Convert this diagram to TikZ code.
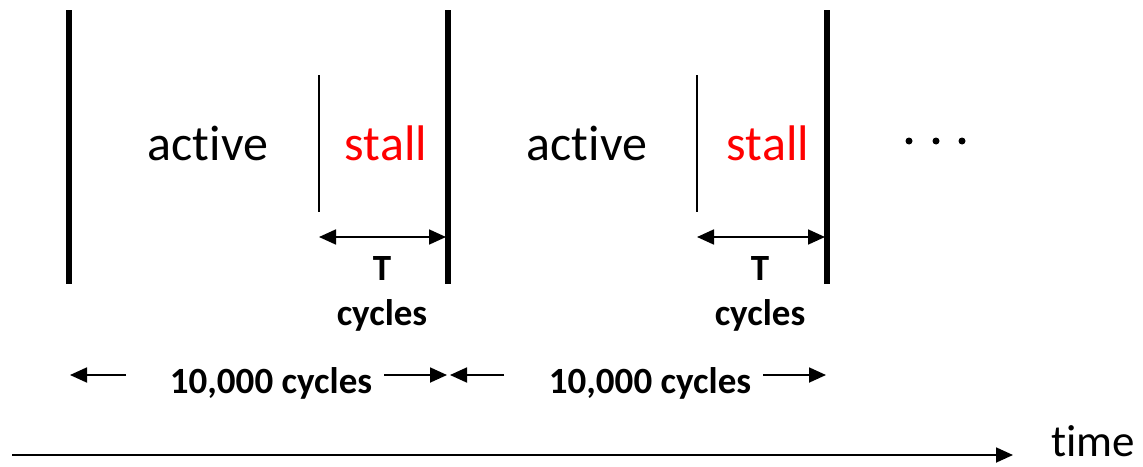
\documentclass[tikz,border=0pt]{standalone}
\usepackage{fontspec}
\setmainfont{Carlito}[Ligatures=NoCommon]
\usetikzlibrary{arrows.meta}
\begin{document}
\begin{tikzpicture}[x=1pt,y=-1pt,
  thickbar/.style={line width=6pt},
  thinbar/.style={line width=1.5pt},
  dimarrow/.style={line width=1.8pt,-{Triangle[length=17pt,width=15pt]}},
  dimboth/.style={line width=1.8pt,{Triangle[length=17pt,width=15pt]}-{Triangle[length=17pt,width=15pt]}},
  bigtxt/.style={inner sep=0pt,anchor=base,font=\fontsize{50}{60}\selectfont},
  boldtxt/.style={inner sep=0pt,anchor=base,font=\fontsize{37}{44}\selectfont\bfseries},
  dot/.style={circle,fill=black,inner sep=0pt,minimum size=7pt}]
\useasboundingbox (0,0) rectangle (1143,466);
% thick separators
\coordinate (b1t) at (68.7,10); \coordinate (b1b) at (68.7,284);
\coordinate (b2t) at (448,10);  \coordinate (b2b) at (448,284);
\coordinate (b3t) at (827,10);  \coordinate (b3b) at (827,284);
\draw[thickbar] (b1t) -- (b1b);
\draw[thickbar] (b2t) -- (b2b);
\draw[thickbar] (b3t) -- (b3b);
% thin stall markers
\coordinate (s1t) at (319,75); \coordinate (s1b) at (319,212);
\coordinate (s2t) at (697,75); \coordinate (s2b) at (697,212);
\draw[thinbar] (s1t) -- (s1b);
\draw[thinbar] (s2t) -- (s2b);
% labels
\node[bigtxt] (a1) at (208,160) {active};
\node[bigtxt,text=red] (st1) at (386,160) {stall};
\node[bigtxt] (a2) at (587,160) {active};
\node[bigtxt,text=red] (st2) at (768,160) {stall};
\node[dot] (d1) at (909,141) {};
\node[dot] (d2) at (936,141) {};
\node[dot] (d3) at (962,141) {};
% T cycles arrows
\coordinate (t1l) at (319,237); \coordinate (t1r) at (446,237);
\coordinate (t2l) at (697,237); \coordinate (t2r) at (825,237);
\draw[dimboth] (t1l) -- (t1r);
\draw[dimboth] (t2l) -- (t2r);
\node[boldtxt] (T1) at (382,280) {T};
\node[boldtxt] (c1) at (382,325) {cycles};
\node[boldtxt] (T2) at (760,280) {T};
\node[boldtxt] (c2) at (760,325) {cycles};
% 10,000 cycles
\node[boldtxt] (p1) at (271,393) {10,000 cycles};
\node[boldtxt] (p2) at (650,393) {10,000 cycles};
\coordinate (p1ls) at (126,375); \coordinate (p1le) at (70,375);
\coordinate (p1rs) at (384,375); \coordinate (p1re) at (447,375);
\coordinate (p2ls) at (504,375); \coordinate (p2le) at (450,375);
\coordinate (p2rs) at (763,375); \coordinate (p2re) at (826,375);
\draw[dimarrow] (p1ls) -- (p1le);
\draw[dimarrow] (p1rs) -- (p1re);
\draw[dimarrow] (p2ls) -- (p2le);
\draw[dimarrow] (p2rs) -- (p2re);
% time axis
\coordinate (ts) at (12,455); \coordinate (te) at (1013,455);
\draw[dimarrow] (ts) -- (te);
\node[inner sep=0pt,anchor=base,font=\fontsize{45}{54}\selectfont] (time) at (1093,456) {time};
\end{tikzpicture}
\end{document}
